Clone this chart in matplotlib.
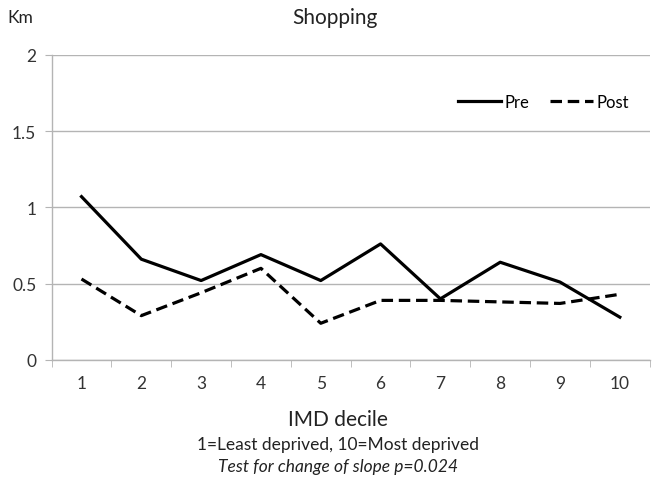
import matplotlib
matplotlib.use("Agg")
import matplotlib.pyplot as plt

# IMD deciles and mean distance (km)
deciles = [1, 2, 3, 4, 5, 6, 7, 8, 9, 10]
pre = [1.07, 0.66, 0.52, 0.69, 0.52, 0.76, 0.40, 0.64, 0.51, 0.28]
post = [0.53, 0.29, 0.44, 0.60, 0.24, 0.39, 0.39, 0.38, 0.37, 0.43]

plt.rcParams['font.family'] = ['Lato', 'DejaVu Sans']

fig = plt.figure(figsize=(6.53, 4.89), dpi=100)
ax = fig.add_axes([0.079, 0.262, 0.916, 0.624])

grid_col = '#b4b4b4'
ax.plot(deciles, pre, color='black', lw=2.3, label='Pre')
ax.plot(deciles, post, color='black', lw=2.3, dashes=(3.6, 1.8), label='Post')

ax.set_xlim(0.5, 10.5)
ax.set_ylim(0, 2)
ax.set_yticks([0, 0.5, 1, 1.5, 2])
ax.set_yticklabels(['0', '0.5', '1', '1.5', '2'])
ax.set_xticks(deciles)
ax.set_xticks([x + 0.5 for x in range(0, 11)], minor=True)
ax.tick_params(axis='x', which='major', length=0, pad=11, labelsize=12.5, colors='#333333')
ax.tick_params(axis='x', which='minor', length=5, color=grid_col, direction='out')
ax.tick_params(axis='y', length=5, color=grid_col, pad=6, labelsize=12.5, labelcolor='#333333')

ax.yaxis.grid(True, color=grid_col, lw=1)
ax.set_axisbelow(True)
for s in ['top', 'right']:
    ax.spines[s].set_visible(False)
for s in ['left', 'bottom']:
    ax.spines[s].set_color(grid_col)
    ax.spines[s].set_linewidth(1)

leg = ax.legend(loc='upper right', bbox_to_anchor=(0.99, 0.92), ncol=2, frameon=False,
                fontsize=12, handlelength=2.6, handletextpad=0.2, columnspacing=1.2)

fig.text(0.513, 0.963, 'Shopping', ha='center', va='center', fontsize=15, color='#222222')
fig.text(0.031, 0.963, 'Km', ha='center', va='center', fontsize=12.5, color='#222222')
fig.text(0.518, 0.142, 'IMD decile', ha='center', va='center', fontsize=15, color='#222222')
fig.text(0.518, 0.090, '1=Least deprived, 10=Most deprived', ha='center', va='center',
         fontsize=12.5, color='#222222')
fig.text(0.518, 0.045, 'Test for change of slope p=0.024', ha='center', va='center',
         fontsize=12.5, style='italic', color='#222222')

fig.savefig('out.png', dpi=100)
